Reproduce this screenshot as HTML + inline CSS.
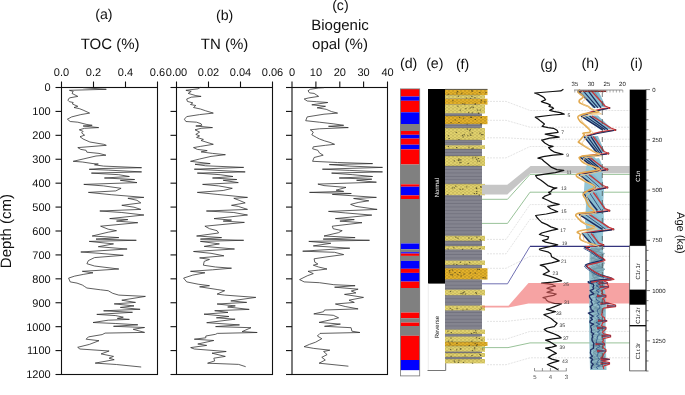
<!DOCTYPE html><html><head><meta charset="utf-8"><style>html,body{margin:0;padding:0;background:#fff;}svg{display:block;will-change:transform;}text{font-family:"Liberation Sans",sans-serif;fill:#111;text-rendering:geometricPrecision;}</style></head><body>
<svg width="685" height="395" viewBox="0 0 685 395">
<rect width="685" height="395" fill="#fff"/>
<text x="103.9" y="19.0" font-size="14.2" text-anchor="middle">(a)</text>
<text x="110.1" y="48.7" font-size="15" text-anchor="middle">TOC (%)</text>
<text x="224.6" y="19.5" font-size="14.2" text-anchor="middle">(b)</text>
<text x="224.5" y="48.6" font-size="15" text-anchor="middle">TN (%)</text>
<text x="340.4" y="9.7" font-size="14.2" text-anchor="middle">(c)</text>
<text x="340" y="29.5" font-size="15" text-anchor="middle">Biogenic</text>
<text x="340" y="48.6" font-size="15" text-anchor="middle">opal (%)</text>
<text transform="translate(11.0,231.1) rotate(-90)" font-size="15" text-anchor="middle">Depth (cm)</text>
<rect x="61.5" y="87.5" width="96.0" height="287" fill="none" stroke="#111" stroke-width="1.1"/><line x1="61.5" y1="87.5" x2="61.5" y2="81.5" stroke="#111" stroke-width="1.1"/><text x="61.5" y="76.2" font-size="11" text-anchor="middle">0.0</text><line x1="93.5" y1="87.5" x2="93.5" y2="81.5" stroke="#111" stroke-width="1.1"/><text x="93.5" y="76.2" font-size="11" text-anchor="middle">0.2</text><line x1="125.5" y1="87.5" x2="125.5" y2="81.5" stroke="#111" stroke-width="1.1"/><text x="125.5" y="76.2" font-size="11" text-anchor="middle">0.4</text><line x1="157.5" y1="87.5" x2="157.5" y2="81.5" stroke="#111" stroke-width="1.1"/><text x="157.5" y="76.2" font-size="11" text-anchor="middle">0.6</text><line x1="61.5" y1="87.50" x2="55.5" y2="87.50" stroke="#111" stroke-width="1.1"/><line x1="61.5" y1="111.42" x2="55.5" y2="111.42" stroke="#111" stroke-width="1.1"/><line x1="61.5" y1="135.33" x2="55.5" y2="135.33" stroke="#111" stroke-width="1.1"/><line x1="61.5" y1="159.25" x2="55.5" y2="159.25" stroke="#111" stroke-width="1.1"/><line x1="61.5" y1="183.17" x2="55.5" y2="183.17" stroke="#111" stroke-width="1.1"/><line x1="61.5" y1="207.08" x2="55.5" y2="207.08" stroke="#111" stroke-width="1.1"/><line x1="61.5" y1="231.00" x2="55.5" y2="231.00" stroke="#111" stroke-width="1.1"/><line x1="61.5" y1="254.92" x2="55.5" y2="254.92" stroke="#111" stroke-width="1.1"/><line x1="61.5" y1="278.83" x2="55.5" y2="278.83" stroke="#111" stroke-width="1.1"/><line x1="61.5" y1="302.75" x2="55.5" y2="302.75" stroke="#111" stroke-width="1.1"/><line x1="61.5" y1="326.67" x2="55.5" y2="326.67" stroke="#111" stroke-width="1.1"/><line x1="61.5" y1="350.58" x2="55.5" y2="350.58" stroke="#111" stroke-width="1.1"/><line x1="61.5" y1="374.50" x2="55.5" y2="374.50" stroke="#111" stroke-width="1.1"/>
<rect x="176.5" y="87.5" width="96.0" height="287" fill="none" stroke="#111" stroke-width="1.1"/><line x1="176.5" y1="87.5" x2="176.5" y2="81.5" stroke="#111" stroke-width="1.1"/><text x="176.5" y="76.2" font-size="11" text-anchor="middle">0.00</text><line x1="208.5" y1="87.5" x2="208.5" y2="81.5" stroke="#111" stroke-width="1.1"/><text x="208.5" y="76.2" font-size="11" text-anchor="middle">0.02</text><line x1="240.5" y1="87.5" x2="240.5" y2="81.5" stroke="#111" stroke-width="1.1"/><text x="240.5" y="76.2" font-size="11" text-anchor="middle">0.04</text><line x1="272.5" y1="87.5" x2="272.5" y2="81.5" stroke="#111" stroke-width="1.1"/><text x="272.5" y="76.2" font-size="11" text-anchor="middle">0.06</text><line x1="176.5" y1="87.50" x2="170.5" y2="87.50" stroke="#111" stroke-width="1.1"/><line x1="176.5" y1="111.42" x2="170.5" y2="111.42" stroke="#111" stroke-width="1.1"/><line x1="176.5" y1="135.33" x2="170.5" y2="135.33" stroke="#111" stroke-width="1.1"/><line x1="176.5" y1="159.25" x2="170.5" y2="159.25" stroke="#111" stroke-width="1.1"/><line x1="176.5" y1="183.17" x2="170.5" y2="183.17" stroke="#111" stroke-width="1.1"/><line x1="176.5" y1="207.08" x2="170.5" y2="207.08" stroke="#111" stroke-width="1.1"/><line x1="176.5" y1="231.00" x2="170.5" y2="231.00" stroke="#111" stroke-width="1.1"/><line x1="176.5" y1="254.92" x2="170.5" y2="254.92" stroke="#111" stroke-width="1.1"/><line x1="176.5" y1="278.83" x2="170.5" y2="278.83" stroke="#111" stroke-width="1.1"/><line x1="176.5" y1="302.75" x2="170.5" y2="302.75" stroke="#111" stroke-width="1.1"/><line x1="176.5" y1="326.67" x2="170.5" y2="326.67" stroke="#111" stroke-width="1.1"/><line x1="176.5" y1="350.58" x2="170.5" y2="350.58" stroke="#111" stroke-width="1.1"/><line x1="176.5" y1="374.50" x2="170.5" y2="374.50" stroke="#111" stroke-width="1.1"/>
<rect x="292" y="87.5" width="95.5" height="287" fill="none" stroke="#111" stroke-width="1.1"/><line x1="292" y1="87.5" x2="292" y2="81.5" stroke="#111" stroke-width="1.1"/><text x="292" y="76.2" font-size="11" text-anchor="middle">0</text><line x1="315.9" y1="87.5" x2="315.9" y2="81.5" stroke="#111" stroke-width="1.1"/><text x="315.9" y="76.2" font-size="11" text-anchor="middle">10</text><line x1="339.8" y1="87.5" x2="339.8" y2="81.5" stroke="#111" stroke-width="1.1"/><text x="339.8" y="76.2" font-size="11" text-anchor="middle">20</text><line x1="363.6" y1="87.5" x2="363.6" y2="81.5" stroke="#111" stroke-width="1.1"/><text x="363.6" y="76.2" font-size="11" text-anchor="middle">30</text><line x1="387.5" y1="87.5" x2="387.5" y2="81.5" stroke="#111" stroke-width="1.1"/><text x="387.5" y="76.2" font-size="11" text-anchor="middle">40</text><line x1="292" y1="87.50" x2="286" y2="87.50" stroke="#111" stroke-width="1.1"/><line x1="292" y1="111.42" x2="286" y2="111.42" stroke="#111" stroke-width="1.1"/><line x1="292" y1="135.33" x2="286" y2="135.33" stroke="#111" stroke-width="1.1"/><line x1="292" y1="159.25" x2="286" y2="159.25" stroke="#111" stroke-width="1.1"/><line x1="292" y1="183.17" x2="286" y2="183.17" stroke="#111" stroke-width="1.1"/><line x1="292" y1="207.08" x2="286" y2="207.08" stroke="#111" stroke-width="1.1"/><line x1="292" y1="231.00" x2="286" y2="231.00" stroke="#111" stroke-width="1.1"/><line x1="292" y1="254.92" x2="286" y2="254.92" stroke="#111" stroke-width="1.1"/><line x1="292" y1="278.83" x2="286" y2="278.83" stroke="#111" stroke-width="1.1"/><line x1="292" y1="302.75" x2="286" y2="302.75" stroke="#111" stroke-width="1.1"/><line x1="292" y1="326.67" x2="286" y2="326.67" stroke="#111" stroke-width="1.1"/><line x1="292" y1="350.58" x2="286" y2="350.58" stroke="#111" stroke-width="1.1"/><line x1="292" y1="374.50" x2="286" y2="374.50" stroke="#111" stroke-width="1.1"/>
<text x="50.7" y="91.3" font-size="11" text-anchor="end">0</text>
<text x="50.7" y="115.2" font-size="11" text-anchor="end">100</text>
<text x="50.7" y="139.1" font-size="11" text-anchor="end">200</text>
<text x="50.7" y="163.1" font-size="11" text-anchor="end">300</text>
<text x="50.7" y="187.0" font-size="11" text-anchor="end">400</text>
<text x="50.7" y="210.9" font-size="11" text-anchor="end">500</text>
<text x="50.7" y="234.8" font-size="11" text-anchor="end">600</text>
<text x="50.7" y="258.7" font-size="11" text-anchor="end">700</text>
<text x="50.7" y="282.6" font-size="11" text-anchor="end">800</text>
<text x="50.7" y="306.6" font-size="11" text-anchor="end">900</text>
<text x="50.7" y="330.5" font-size="11" text-anchor="end">1000</text>
<text x="50.7" y="354.4" font-size="11" text-anchor="end">1100</text>
<text x="50.7" y="378.3" font-size="11" text-anchor="end">1200</text>
<polyline points="83.1,87.7 106.3,89.3 69.4,90.3 73.2,91.4 72.0,93.4 77.8,96.4 69.4,97.9 67.9,100.2 69.4,101.7 73.2,102.5 72.4,104.0 77.8,106.3 74.0,107.5 79.3,108.6 83.1,110.1 89.6,113.1 80.8,114.6 71.7,116.9 67.4,119.2 70.2,121.5 77.8,122.2 86.9,124.5 92.2,125.3 83.1,126.0 98.7,127.6 84.6,128.3 79.3,129.8 83.1,131.4 81.6,132.9 84.6,135.2 80.0,136.7 83.1,139.0 89.9,142.0 103.6,144.3 106.3,145.3 93.0,146.4 77.8,147.6 80.8,149.4 86.1,150.3 86.9,152.2 99.0,153.4 105.9,155.2 96.0,156.0 83.1,159.0 73.2,161.3 82.3,162.0 93.0,163.6 98.3,164.0 94.5,164.8 103.6,166.1 141.6,167.7 99.0,168.6 89.2,169.3 108.2,170.1 141.6,171.9 91.4,173.1 118.8,174.7 129.4,176.5 104.4,178.0 134.7,179.5 120.3,180.3 137.0,182.6 83.8,184.4 103.6,185.9 121.1,188.3 115.8,190.9 88.4,192.4 111.2,194.7 143.9,197.4 127.9,198.3 137.0,200.3 140.8,202.9 121.8,205.3 134.0,207.2 140.8,209.4 99.8,211.0 121.8,212.5 143.9,215.0 109.7,218.6 127.9,219.6 116.5,221.1 137.8,222.7 100.6,226.2 108.2,229.2 116.5,230.7 108.2,232.2 92.2,236.0 118.8,237.6 96.0,239.1 136.3,240.3 89.2,241.4 113.5,243.9 98.3,246.7 127.1,249.0 80.8,252.0 99.0,253.3 123.3,255.3 94.5,257.6 88.4,260.6 86.9,263.7 94.5,266.0 118.8,269.0 96.0,270.5 82.3,271.3 93.0,272.8 83.8,274.3 74.7,276.1 68.6,278.1 70.2,281.9 77.0,283.1 82.3,285.0 84.6,286.5 86.9,288.0 100.6,289.8 108.2,290.7 112.7,293.3 118.8,295.1 145.4,296.4 121.8,300.2 135.5,302.4 114.2,303.9 134.0,305.9 120.3,307.4 140.1,309.3 103.6,310.8 132.5,312.3 96.8,314.4 115.8,315.6 123.3,317.2 117.3,318.4 129.4,319.4 108.2,320.2 93.0,322.5 115.8,323.5 137.8,324.8 113.5,326.3 144.6,327.5 133.2,329.3 144.6,332.4 105.1,333.1 102.1,334.6 88.4,336.9 86.1,339.2 99.0,340.7 89.4,344.4 77.7,347.3 79.9,349.0 109.1,351.0 101.1,353.9 113.5,356.4 109.1,358.2 114.2,359.7 95.2,363.1 116.4,364.5 141.2,367.0" fill="none" stroke="#2a2a2a" stroke-width="0.75" stroke-linejoin="round"/>
<polyline points="200.4,87.3 198.1,88.8 185.9,90.3 191.2,91.4 188.2,93.4 195.8,95.6 201.1,96.4 191.2,97.2 186.7,99.0 187.4,101.4 192.8,102.9 190.5,104.5 195.8,105.5 193.5,107.5 200.4,109.0 205.7,110.8 213.3,113.1 199.6,114.6 186.7,116.6 184.4,119.2 185.9,121.5 196.6,122.2 201.1,123.8 201.9,125.3 195.8,126.0 212.5,127.6 201.1,128.3 195.0,129.8 199.6,132.1 195.8,134.4 199.6,135.9 196.6,137.4 203.4,139.4 201.1,140.5 213.3,144.3 200.4,146.4 193.5,147.6 197.3,149.4 207.2,150.6 201.1,151.9 212.5,153.4 225.4,154.7 211.0,156.4 199.6,159.0 190.5,161.3 210.2,163.6 195.0,164.3 205.7,165.8 243.7,167.4 194.3,169.2 245.2,171.9 197.3,173.1 220.1,174.7 233.0,176.5 212.5,178.0 236.8,179.5 223.2,180.3 238.3,182.6 202.6,184.4 218.6,185.9 232.3,188.3 223.2,190.5 197.3,192.4 217.1,194.4 247.5,197.4 233.8,198.3 239.1,200.3 245.2,202.9 231.5,205.3 238.3,206.4 247.5,209.4 206.4,211.0 233.8,212.5 247.5,215.0 214.0,218.6 231.5,220.1 223.2,221.1 244.4,222.4 204.9,226.2 209.5,228.7 217.1,230.7 218.6,233.0 196.6,236.0 221.6,237.6 200.4,239.1 243.7,240.3 200.4,241.4 219.4,243.9 204.2,246.4 234.5,249.0 193.5,251.5 211.0,253.3 223.9,255.8 199.6,257.9 209.5,259.4 204.2,261.4 203.4,265.2 215.6,267.0 231.5,268.2 212.5,269.8 190.5,271.3 204.9,272.8 192.8,275.1 183.6,278.1 186.7,281.9 198.1,284.2 209.5,285.7 199.6,286.8 217.1,289.5 224.7,290.7 217.1,294.1 224.7,295.1 255.8,297.4 230.8,300.9 246.7,302.4 217.1,304.0 235.3,305.9 227.7,307.0 249.2,309.4 214.7,310.7 228.0,312.4 204.0,314.2 228.9,316.5 216.4,317.8 235.1,319.2 206.7,322.7 239.5,324.9 215.6,326.6 251.0,327.7 242.1,331.6 257.2,332.5 217.3,333.4 215.6,334.3 205.8,336.0 205.8,337.8 194.3,339.2 213.8,340.5 197.8,344.0 206.7,345.4 190.7,347.6 194.3,349.0 226.2,351.5 212.0,353.2 225.3,356.4 213.8,358.2 214.7,360.9 207.6,363.2 238.6,364.4 245.7,366.7" fill="none" stroke="#2a2a2a" stroke-width="0.75" stroke-linejoin="round"/>
<polyline points="324.0,87.7 318.6,88.0 310.3,89.3 308.0,90.8 309.5,92.9 314.1,93.4 316.4,94.9 318.6,96.4 308.8,97.9 304.2,99.0 307.2,101.0 316.4,101.7 327.8,102.5 311.8,104.8 325.5,106.3 317.1,107.8 326.2,109.3 331.6,111.6 337.6,113.1 324.0,114.2 307.2,116.9 305.7,120.7 319.4,122.2 333.1,123.8 343.7,125.3 328.5,126.3 348.3,127.6 319.4,128.8 310.3,129.8 313.3,132.1 311.8,134.8 316.4,137.4 319.4,139.0 324.7,140.9 330.0,142.4 334.6,144.3 325.5,145.3 313.3,146.8 312.6,148.8 317.9,150.3 319.4,152.9 323.2,155.2 314.1,157.5 312.6,161.3 337.6,162.5 372.6,163.6 329.3,164.6 349.8,166.1 382.5,167.4 322.4,169.2 349.8,170.4 382.5,171.9 331.6,173.1 352.8,174.7 372.6,176.5 339.2,178.0 371.8,179.2 356.6,180.3 376.4,182.2 317.9,184.1 324.0,185.6 346.0,187.4 336.1,190.2 343.7,191.4 309.5,192.4 351.3,193.5 332.3,194.4 376.4,197.4 353.6,198.5 368.8,200.8 358.9,202.3 350.6,204.4 355.9,206.4 377.1,209.4 328.5,211.4 345.2,212.9 371.8,215.1 335.4,218.6 354.3,219.6 339.9,221.1 362.0,222.7 332.3,226.2 333.1,228.7 342.2,230.7 338.4,232.7 324.0,236.0 355.1,237.6 323.2,239.1 369.5,240.3 308.8,241.4 330.8,243.3 313.3,245.9 349.8,248.2 302.7,251.2 334.6,252.3 343.7,254.6 327.0,256.8 314.1,258.8 314.8,262.2 317.9,264.0 313.3,265.2 318.6,267.0 327.0,269.0 318.6,270.1 308.0,271.3 313.3,273.6 307.2,275.8 299.6,279.6 304.2,281.9 319.4,282.7 333.8,284.7 355.1,285.7 334.6,287.2 358.1,289.2 351.3,291.0 355.9,292.9 344.5,294.4 363.5,297.4 349.0,300.2 354.3,302.4 335.4,304.0 345.2,306.5 358.1,308.9 324.5,310.0 323.6,311.7 313.8,313.9 333.3,315.3 338.6,317.8 333.3,319.2 319.1,322.4 340.4,324.1 324.5,326.3 351.1,327.7 351.9,331.2 359.9,332.5 320.0,333.4 317.4,336.0 321.8,338.7 315.6,342.2 309.4,344.4 304.1,346.7 313.8,348.4 329.8,350.2 323.6,351.5 327.1,354.6 321.8,357.3 325.3,360.0 319.1,363.2 348.4,366.2" fill="none" stroke="#2a2a2a" stroke-width="0.75" stroke-linejoin="round"/>
<text x="408.6" y="68.3" font-size="14.2" text-anchor="middle">(d)</text>
<text x="434.8" y="68.3" font-size="14.2" text-anchor="middle">(e)</text>
<text x="462.6" y="69.4" font-size="14.2" text-anchor="middle">(f)</text>
<text x="548.8" y="69.4" font-size="14.2" text-anchor="middle">(g)</text>
<text x="590.2" y="68.2" font-size="14.2" text-anchor="middle">(h)</text>
<text x="636.4" y="68.2" font-size="14.2" text-anchor="middle">(i)</text>
<rect x="400.5" y="89" width="19.2" height="7.50" fill="#ff0000"/>
<rect x="400.5" y="96.5" width="19.2" height="4.30" fill="#0000ff"/>
<rect x="400.5" y="100.8" width="19.2" height="11.50" fill="#ff0000"/>
<rect x="400.5" y="112.3" width="19.2" height="11.70" fill="#0000ff"/>
<rect x="400.5" y="124" width="19.2" height="7.00" fill="#808080"/>
<rect x="400.5" y="131" width="19.2" height="3.80" fill="#ff0000"/>
<rect x="400.5" y="134.8" width="19.2" height="3.80" fill="#0000ff"/>
<rect x="400.5" y="138.6" width="19.2" height="6.10" fill="#ff0000"/>
<rect x="400.5" y="144.7" width="19.2" height="4.70" fill="#0000ff"/>
<rect x="400.5" y="149.4" width="19.2" height="15.10" fill="#ff0000"/>
<rect x="400.5" y="164.5" width="19.2" height="19.80" fill="#808080"/>
<rect x="400.5" y="184.3" width="19.2" height="2.40" fill="#ff0000"/>
<rect x="400.5" y="186.7" width="19.2" height="8.70" fill="#0000ff"/>
<rect x="400.5" y="195.4" width="19.2" height="3.60" fill="#ff0000"/>
<rect x="400.5" y="199" width="19.2" height="44.50" fill="#808080"/>
<rect x="400.5" y="243.5" width="19.2" height="5.70" fill="#0000ff"/>
<rect x="400.5" y="249.2" width="19.2" height="3.00" fill="#808080"/>
<rect x="400.5" y="252.2" width="19.2" height="1.40" fill="#0000ff"/>
<rect x="400.5" y="253.6" width="19.2" height="2.30" fill="#ff0000"/>
<rect x="400.5" y="255.9" width="19.2" height="5.00" fill="#808080"/>
<rect x="400.5" y="260.9" width="19.2" height="7.90" fill="#0000ff"/>
<rect x="400.5" y="268.8" width="19.2" height="4.10" fill="#ff0000"/>
<rect x="400.5" y="272.9" width="19.2" height="8.70" fill="#0000ff"/>
<rect x="400.5" y="281.6" width="19.2" height="6.40" fill="#ff0000"/>
<rect x="400.5" y="288" width="19.2" height="24.60" fill="#808080"/>
<rect x="400.5" y="312.6" width="19.2" height="5.60" fill="#ff0000"/>
<rect x="400.5" y="318.2" width="19.2" height="4.40" fill="#808080"/>
<rect x="400.5" y="322.6" width="19.2" height="3.40" fill="#ff0000"/>
<rect x="400.5" y="326" width="19.2" height="9.80" fill="#808080"/>
<rect x="400.5" y="335.8" width="19.2" height="24.20" fill="#ff0000"/>
<rect x="400.5" y="360" width="19.2" height="10.40" fill="#0000ff"/>
<rect x="400.5" y="370.4" width="19.2" height="5.50" fill="#ffffff"/>
<rect x="400.5" y="88.9" width="19.2" height="87" fill="none"/>
<rect x="400.5" y="88.9" width="19.2" height="287" fill="none" stroke="#777" stroke-width="0.8"/>
<rect x="428" y="89" width="17.3" height="194.6" fill="#000"/>
<line x1="428.3" y1="283.6" x2="428.3" y2="370.4" stroke="#e4e4e4" stroke-width="0.7"/>
<polyline points="427.5,370.5 445.7,370.5 445.7,283.6" fill="none" stroke="#666" stroke-width="0.9"/>
<text transform="translate(438.8,187.7) rotate(-90)" font-size="6" fill="#fff" text-anchor="middle" style="fill:#fff">Normal</text>
<text transform="translate(438.8,327.2) rotate(-90)" font-size="6" text-anchor="middle">Reverse</text>
<defs><pattern id="pY" width="4" height="3" patternUnits="userSpaceOnUse"><rect width="4" height="3" fill="#dfd06c"/><rect x="0.3" y="0.6" width="1.4" height="0.7" fill="#9c8e40"/><rect x="2.4" y="2" width="1.2" height="0.6" fill="#aa9a48"/></pattern><pattern id="pD" width="4" height="3" patternUnits="userSpaceOnUse"><rect width="4" height="3" fill="#e2b02a"/><rect x="0.3" y="0.6" width="1.4" height="0.7" fill="#8e6c14"/><rect x="2.4" y="2" width="1.2" height="0.6" fill="#a47e18"/></pattern><pattern id="pG" width="6" height="3.4" patternUnits="userSpaceOnUse"><rect width="6" height="3.4" fill="#84848f"/><rect y="2.5" width="6" height="0.8" fill="#6e6e7c"/></pattern></defs>
<rect x="445" y="89.4" width="42.5" height="5.70" fill="url(#pD)"/>
<rect x="445" y="95.1" width="40" height="3.60" fill="url(#pY)"/>
<rect x="445" y="98.7" width="42.5" height="5.90" fill="url(#pD)"/>
<rect x="445" y="104.6" width="40" height="8.90" fill="url(#pY)"/>
<rect x="445" y="113.5" width="37" height="2.50" fill="url(#pG)"/>
<rect x="445" y="116" width="42.5" height="8.20" fill="url(#pD)"/>
<rect x="445" y="124.2" width="37" height="3.80" fill="url(#pG)"/>
<rect x="445" y="128" width="40" height="12.00" fill="url(#pY)"/>
<rect x="445" y="140" width="37" height="5.20" fill="url(#pG)"/>
<rect x="445" y="145.2" width="40" height="3.80" fill="url(#pY)"/>
<rect x="445" y="149" width="37" height="7.00" fill="url(#pG)"/>
<rect x="445" y="156" width="40" height="10.00" fill="url(#pY)"/>
<rect x="445" y="166" width="37" height="17.90" fill="url(#pG)"/>
<rect x="445" y="183.9" width="40" height="11.40" fill="url(#pY)"/>
<rect x="445" y="195.3" width="37" height="40.50" fill="url(#pG)"/>
<rect x="445" y="235.8" width="40" height="5.10" fill="url(#pY)"/>
<rect x="445" y="240.9" width="37" height="5.10" fill="url(#pG)"/>
<rect x="445" y="246" width="40" height="3.70" fill="url(#pY)"/>
<rect x="445" y="249.7" width="37" height="10.80" fill="url(#pG)"/>
<rect x="445" y="260.5" width="40" height="4.50" fill="url(#pY)"/>
<rect x="445" y="265" width="37" height="3.20" fill="url(#pG)"/>
<rect x="445" y="268.2" width="42.5" height="11.40" fill="url(#pD)"/>
<rect x="445" y="279.6" width="37" height="10.10" fill="url(#pG)"/>
<rect x="445" y="289.7" width="40" height="5.70" fill="url(#pY)"/>
<rect x="445" y="295.4" width="37" height="10.10" fill="url(#pG)"/>
<rect x="445" y="305.5" width="40" height="5.10" fill="url(#pY)"/>
<rect x="445" y="310.6" width="37" height="19.00" fill="url(#pG)"/>
<rect x="445" y="329.6" width="40" height="4.40" fill="url(#pY)"/>
<rect x="445" y="334" width="37" height="2.50" fill="url(#pG)"/>
<rect x="445" y="336.5" width="40" height="5.50" fill="url(#pY)"/>
<rect x="445" y="342" width="42.5" height="4.00" fill="url(#pD)"/>
<rect x="445" y="346" width="40" height="5.80" fill="url(#pY)"/>
<rect x="445" y="351.8" width="37" height="1.20" fill="url(#pG)"/>
<rect x="445" y="353" width="40" height="4.00" fill="url(#pY)"/>
<rect x="445" y="357" width="37" height="2.00" fill="url(#pG)"/>
<rect x="445" y="359" width="40" height="4.40" fill="url(#pY)"/>
<rect x="456.2" y="92.4" width="1.3" height="1" fill="#3a3520" opacity="0.75"/>
<rect x="461.2" y="92.7" width="1.3" height="1" fill="#3a3520" opacity="0.75"/>
<rect x="471.1" y="90.3" width="1.3" height="1" fill="#3a3520" opacity="0.75"/>
<rect x="447.5" y="93.8" width="1.3" height="1" fill="#3a3520" opacity="0.75"/>
<rect x="457.0" y="91.1" width="1.3" height="1" fill="#3a3520" opacity="0.75"/>
<rect x="485.3" y="92.1" width="1.3" height="1" fill="#3a3520" opacity="0.75"/>
<rect x="479.2" y="92.1" width="1.3" height="1" fill="#3a3520" opacity="0.75"/>
<rect x="471.6" y="90.7" width="1.3" height="1" fill="#3a3520" opacity="0.75"/>
<rect x="469.9" y="97.8" width="1.3" height="1" fill="#3a3520" opacity="0.75"/>
<rect x="465.8" y="97.5" width="1.3" height="1" fill="#3a3520" opacity="0.75"/>
<rect x="471.2" y="95.9" width="1.3" height="1" fill="#3a3520" opacity="0.75"/>
<rect x="474.3" y="97.1" width="1.3" height="1" fill="#3a3520" opacity="0.75"/>
<rect x="457.8" y="95.8" width="1.3" height="1" fill="#3a3520" opacity="0.75"/>
<rect x="480.3" y="101.5" width="1.3" height="1" fill="#3a3520" opacity="0.75"/>
<rect x="474.7" y="103.4" width="1.3" height="1" fill="#3a3520" opacity="0.75"/>
<rect x="474.5" y="103.6" width="1.3" height="1" fill="#3a3520" opacity="0.75"/>
<rect x="462.2" y="103.1" width="1.3" height="1" fill="#3a3520" opacity="0.75"/>
<rect x="464.1" y="103.7" width="1.3" height="1" fill="#3a3520" opacity="0.75"/>
<rect x="480.8" y="99.8" width="1.3" height="1" fill="#3a3520" opacity="0.75"/>
<rect x="452.2" y="100.3" width="1.3" height="1" fill="#3a3520" opacity="0.75"/>
<rect x="484.2" y="101.3" width="1.3" height="1" fill="#3a3520" opacity="0.75"/>
<rect x="469.6" y="107.5" width="1.3" height="1" fill="#3a3520" opacity="0.75"/>
<rect x="465.3" y="108.2" width="1.3" height="1" fill="#3a3520" opacity="0.75"/>
<rect x="459.6" y="109.7" width="1.3" height="1" fill="#3a3520" opacity="0.75"/>
<rect x="468.0" y="112.2" width="1.3" height="1" fill="#3a3520" opacity="0.75"/>
<rect x="471.6" y="112.4" width="1.3" height="1" fill="#3a3520" opacity="0.75"/>
<rect x="477.8" y="112.8" width="1.3" height="1" fill="#3a3520" opacity="0.75"/>
<rect x="471.2" y="106.5" width="1.3" height="1" fill="#3a3520" opacity="0.75"/>
<rect x="478.0" y="112.6" width="1.3" height="1" fill="#3a3520" opacity="0.75"/>
<rect x="479.6" y="109.6" width="1.3" height="1" fill="#3a3520" opacity="0.75"/>
<rect x="472.7" y="106.8" width="1.3" height="1" fill="#3a3520" opacity="0.75"/>
<rect x="476.9" y="109.6" width="1.3" height="1" fill="#3a3520" opacity="0.75"/>
<rect x="457.3" y="105.7" width="1.3" height="1" fill="#3a3520" opacity="0.75"/>
<rect x="479.9" y="123.5" width="1.3" height="1" fill="#3a3520" opacity="0.75"/>
<rect x="450.4" y="122.2" width="1.3" height="1" fill="#3a3520" opacity="0.75"/>
<rect x="462.8" y="117.7" width="1.3" height="1" fill="#3a3520" opacity="0.75"/>
<rect x="458.3" y="122.0" width="1.3" height="1" fill="#3a3520" opacity="0.75"/>
<rect x="480.6" y="116.9" width="1.3" height="1" fill="#3a3520" opacity="0.75"/>
<rect x="470.7" y="116.9" width="1.3" height="1" fill="#3a3520" opacity="0.75"/>
<rect x="474.7" y="118.9" width="1.3" height="1" fill="#3a3520" opacity="0.75"/>
<rect x="480.9" y="123.5" width="1.3" height="1" fill="#3a3520" opacity="0.75"/>
<rect x="466.5" y="123.6" width="1.3" height="1" fill="#3a3520" opacity="0.75"/>
<rect x="458.9" y="117.1" width="1.3" height="1" fill="#3a3520" opacity="0.75"/>
<rect x="470.1" y="116.8" width="1.3" height="1" fill="#3a3520" opacity="0.75"/>
<rect x="454.6" y="119.5" width="1.3" height="1" fill="#3a3520" opacity="0.75"/>
<rect x="469.0" y="130.3" width="1.3" height="1" fill="#3a3520" opacity="0.75"/>
<rect x="448.5" y="138.0" width="1.3" height="1" fill="#3a3520" opacity="0.75"/>
<rect x="458.3" y="139.0" width="1.3" height="1" fill="#3a3520" opacity="0.75"/>
<rect x="479.3" y="132.7" width="1.3" height="1" fill="#3a3520" opacity="0.75"/>
<rect x="463.6" y="134.2" width="1.3" height="1" fill="#3a3520" opacity="0.75"/>
<rect x="470.2" y="135.0" width="1.3" height="1" fill="#3a3520" opacity="0.75"/>
<rect x="467.1" y="135.3" width="1.3" height="1" fill="#3a3520" opacity="0.75"/>
<rect x="480.9" y="134.1" width="1.3" height="1" fill="#3a3520" opacity="0.75"/>
<rect x="462.5" y="136.4" width="1.3" height="1" fill="#3a3520" opacity="0.75"/>
<rect x="455.6" y="131.9" width="1.3" height="1" fill="#3a3520" opacity="0.75"/>
<rect x="482.2" y="134.2" width="1.3" height="1" fill="#3a3520" opacity="0.75"/>
<rect x="466.7" y="128.7" width="1.3" height="1" fill="#3a3520" opacity="0.75"/>
<rect x="461.9" y="134.9" width="1.3" height="1" fill="#3a3520" opacity="0.75"/>
<rect x="447.7" y="135.3" width="1.3" height="1" fill="#3a3520" opacity="0.75"/>
<rect x="469.8" y="129.2" width="1.3" height="1" fill="#3a3520" opacity="0.75"/>
<rect x="469.6" y="133.6" width="1.3" height="1" fill="#3a3520" opacity="0.75"/>
<rect x="471.5" y="132.4" width="1.3" height="1" fill="#3a3520" opacity="0.75"/>
<rect x="472.5" y="147.7" width="1.3" height="1" fill="#3a3520" opacity="0.75"/>
<rect x="447.8" y="146.0" width="1.3" height="1" fill="#3a3520" opacity="0.75"/>
<rect x="471.3" y="148.3" width="1.3" height="1" fill="#3a3520" opacity="0.75"/>
<rect x="456.0" y="147.0" width="1.3" height="1" fill="#3a3520" opacity="0.75"/>
<rect x="468.3" y="146.6" width="1.3" height="1" fill="#3a3520" opacity="0.75"/>
<rect x="460.1" y="159.4" width="1.3" height="1" fill="#3a3520" opacity="0.75"/>
<rect x="460.3" y="161.8" width="1.3" height="1" fill="#3a3520" opacity="0.75"/>
<rect x="457.8" y="159.9" width="1.3" height="1" fill="#3a3520" opacity="0.75"/>
<rect x="474.8" y="156.8" width="1.3" height="1" fill="#3a3520" opacity="0.75"/>
<rect x="467.5" y="163.1" width="1.3" height="1" fill="#3a3520" opacity="0.75"/>
<rect x="458.2" y="158.6" width="1.3" height="1" fill="#3a3520" opacity="0.75"/>
<rect x="475.9" y="158.7" width="1.3" height="1" fill="#3a3520" opacity="0.75"/>
<rect x="453.7" y="160.4" width="1.3" height="1" fill="#3a3520" opacity="0.75"/>
<rect x="472.1" y="157.5" width="1.3" height="1" fill="#3a3520" opacity="0.75"/>
<rect x="458.6" y="159.5" width="1.3" height="1" fill="#3a3520" opacity="0.75"/>
<rect x="477.0" y="160.5" width="1.3" height="1" fill="#3a3520" opacity="0.75"/>
<rect x="477.8" y="158.1" width="1.3" height="1" fill="#3a3520" opacity="0.75"/>
<rect x="459.1" y="162.3" width="1.3" height="1" fill="#3a3520" opacity="0.75"/>
<rect x="478.9" y="160.6" width="1.3" height="1" fill="#3a3520" opacity="0.75"/>
<rect x="455.1" y="185.7" width="1.3" height="1" fill="#3a3520" opacity="0.75"/>
<rect x="466.1" y="186.4" width="1.3" height="1" fill="#3a3520" opacity="0.75"/>
<rect x="476.0" y="193.1" width="1.3" height="1" fill="#3a3520" opacity="0.75"/>
<rect x="453.6" y="187.3" width="1.3" height="1" fill="#3a3520" opacity="0.75"/>
<rect x="476.1" y="191.0" width="1.3" height="1" fill="#3a3520" opacity="0.75"/>
<rect x="476.0" y="188.0" width="1.3" height="1" fill="#3a3520" opacity="0.75"/>
<rect x="451.7" y="187.5" width="1.3" height="1" fill="#3a3520" opacity="0.75"/>
<rect x="475.6" y="187.3" width="1.3" height="1" fill="#3a3520" opacity="0.75"/>
<rect x="459.5" y="188.8" width="1.3" height="1" fill="#3a3520" opacity="0.75"/>
<rect x="462.1" y="188.7" width="1.3" height="1" fill="#3a3520" opacity="0.75"/>
<rect x="480.1" y="186.1" width="1.3" height="1" fill="#3a3520" opacity="0.75"/>
<rect x="447.2" y="194.1" width="1.3" height="1" fill="#3a3520" opacity="0.75"/>
<rect x="478.7" y="194.6" width="1.3" height="1" fill="#3a3520" opacity="0.75"/>
<rect x="462.6" y="194.2" width="1.3" height="1" fill="#3a3520" opacity="0.75"/>
<rect x="480.4" y="186.8" width="1.3" height="1" fill="#3a3520" opacity="0.75"/>
<rect x="473.8" y="193.0" width="1.3" height="1" fill="#3a3520" opacity="0.75"/>
<rect x="470.9" y="238.4" width="1.3" height="1" fill="#3a3520" opacity="0.75"/>
<rect x="457.4" y="237.7" width="1.3" height="1" fill="#3a3520" opacity="0.75"/>
<rect x="455.2" y="236.7" width="1.3" height="1" fill="#3a3520" opacity="0.75"/>
<rect x="468.2" y="237.5" width="1.3" height="1" fill="#3a3520" opacity="0.75"/>
<rect x="476.2" y="236.6" width="1.3" height="1" fill="#3a3520" opacity="0.75"/>
<rect x="479.5" y="239.1" width="1.3" height="1" fill="#3a3520" opacity="0.75"/>
<rect x="480.3" y="239.9" width="1.3" height="1" fill="#3a3520" opacity="0.75"/>
<rect x="479.4" y="248.0" width="1.3" height="1" fill="#3a3520" opacity="0.75"/>
<rect x="447.5" y="248.5" width="1.3" height="1" fill="#3a3520" opacity="0.75"/>
<rect x="453.2" y="247.3" width="1.3" height="1" fill="#3a3520" opacity="0.75"/>
<rect x="470.9" y="247.9" width="1.3" height="1" fill="#3a3520" opacity="0.75"/>
<rect x="461.9" y="248.9" width="1.3" height="1" fill="#3a3520" opacity="0.75"/>
<rect x="469.0" y="262.2" width="1.3" height="1" fill="#3a3520" opacity="0.75"/>
<rect x="456.1" y="263.9" width="1.3" height="1" fill="#3a3520" opacity="0.75"/>
<rect x="464.2" y="263.7" width="1.3" height="1" fill="#3a3520" opacity="0.75"/>
<rect x="459.7" y="261.8" width="1.3" height="1" fill="#3a3520" opacity="0.75"/>
<rect x="466.2" y="263.8" width="1.3" height="1" fill="#3a3520" opacity="0.75"/>
<rect x="453.2" y="263.7" width="1.3" height="1" fill="#3a3520" opacity="0.75"/>
<rect x="482.5" y="277.0" width="1.3" height="1" fill="#3a3520" opacity="0.75"/>
<rect x="478.7" y="268.9" width="1.3" height="1" fill="#3a3520" opacity="0.75"/>
<rect x="471.2" y="277.6" width="1.3" height="1" fill="#3a3520" opacity="0.75"/>
<rect x="448.9" y="271.6" width="1.3" height="1" fill="#3a3520" opacity="0.75"/>
<rect x="457.3" y="274.2" width="1.3" height="1" fill="#3a3520" opacity="0.75"/>
<rect x="463.3" y="273.6" width="1.3" height="1" fill="#3a3520" opacity="0.75"/>
<rect x="476.9" y="268.8" width="1.3" height="1" fill="#3a3520" opacity="0.75"/>
<rect x="449.1" y="270.1" width="1.3" height="1" fill="#3a3520" opacity="0.75"/>
<rect x="451.8" y="269.5" width="1.3" height="1" fill="#3a3520" opacity="0.75"/>
<rect x="484.5" y="277.5" width="1.3" height="1" fill="#3a3520" opacity="0.75"/>
<rect x="450.3" y="273.9" width="1.3" height="1" fill="#3a3520" opacity="0.75"/>
<rect x="459.2" y="272.0" width="1.3" height="1" fill="#3a3520" opacity="0.75"/>
<rect x="460.5" y="275.4" width="1.3" height="1" fill="#3a3520" opacity="0.75"/>
<rect x="469.6" y="272.5" width="1.3" height="1" fill="#3a3520" opacity="0.75"/>
<rect x="454.4" y="272.2" width="1.3" height="1" fill="#3a3520" opacity="0.75"/>
<rect x="451.8" y="274.5" width="1.3" height="1" fill="#3a3520" opacity="0.75"/>
<rect x="474.6" y="272.7" width="1.3" height="1" fill="#3a3520" opacity="0.75"/>
<rect x="449.9" y="291.1" width="1.3" height="1" fill="#3a3520" opacity="0.75"/>
<rect x="460.4" y="293.0" width="1.3" height="1" fill="#3a3520" opacity="0.75"/>
<rect x="475.2" y="292.0" width="1.3" height="1" fill="#3a3520" opacity="0.75"/>
<rect x="475.8" y="293.1" width="1.3" height="1" fill="#3a3520" opacity="0.75"/>
<rect x="462.5" y="292.0" width="1.3" height="1" fill="#3a3520" opacity="0.75"/>
<rect x="464.9" y="293.5" width="1.3" height="1" fill="#3a3520" opacity="0.75"/>
<rect x="462.1" y="293.4" width="1.3" height="1" fill="#3a3520" opacity="0.75"/>
<rect x="463.6" y="291.4" width="1.3" height="1" fill="#3a3520" opacity="0.75"/>
<rect x="466.3" y="308.8" width="1.3" height="1" fill="#3a3520" opacity="0.75"/>
<rect x="449.6" y="307.8" width="1.3" height="1" fill="#3a3520" opacity="0.75"/>
<rect x="462.3" y="309.5" width="1.3" height="1" fill="#3a3520" opacity="0.75"/>
<rect x="480.7" y="307.6" width="1.3" height="1" fill="#3a3520" opacity="0.75"/>
<rect x="479.3" y="309.2" width="1.3" height="1" fill="#3a3520" opacity="0.75"/>
<rect x="456.4" y="307.9" width="1.3" height="1" fill="#3a3520" opacity="0.75"/>
<rect x="451.4" y="309.3" width="1.3" height="1" fill="#3a3520" opacity="0.75"/>
<rect x="470.8" y="333.0" width="1.3" height="1" fill="#3a3520" opacity="0.75"/>
<rect x="475.5" y="332.3" width="1.3" height="1" fill="#3a3520" opacity="0.75"/>
<rect x="473.4" y="332.0" width="1.3" height="1" fill="#3a3520" opacity="0.75"/>
<rect x="450.7" y="332.1" width="1.3" height="1" fill="#3a3520" opacity="0.75"/>
<rect x="447.2" y="330.7" width="1.3" height="1" fill="#3a3520" opacity="0.75"/>
<rect x="474.9" y="330.3" width="1.3" height="1" fill="#3a3520" opacity="0.75"/>
<rect x="450.3" y="337.5" width="1.3" height="1" fill="#3a3520" opacity="0.75"/>
<rect x="478.7" y="337.9" width="1.3" height="1" fill="#3a3520" opacity="0.75"/>
<rect x="447.8" y="340.7" width="1.3" height="1" fill="#3a3520" opacity="0.75"/>
<rect x="451.4" y="340.7" width="1.3" height="1" fill="#3a3520" opacity="0.75"/>
<rect x="471.2" y="340.7" width="1.3" height="1" fill="#3a3520" opacity="0.75"/>
<rect x="481.3" y="339.6" width="1.3" height="1" fill="#3a3520" opacity="0.75"/>
<rect x="475.8" y="337.3" width="1.3" height="1" fill="#3a3520" opacity="0.75"/>
<rect x="476.5" y="344.0" width="1.3" height="1" fill="#3a3520" opacity="0.75"/>
<rect x="474.5" y="342.9" width="1.3" height="1" fill="#3a3520" opacity="0.75"/>
<rect x="475.8" y="345.2" width="1.3" height="1" fill="#3a3520" opacity="0.75"/>
<rect x="449.4" y="343.5" width="1.3" height="1" fill="#3a3520" opacity="0.75"/>
<rect x="468.7" y="344.9" width="1.3" height="1" fill="#3a3520" opacity="0.75"/>
<rect x="456.3" y="343.1" width="1.3" height="1" fill="#3a3520" opacity="0.75"/>
<rect x="456.0" y="349.4" width="1.3" height="1" fill="#3a3520" opacity="0.75"/>
<rect x="474.1" y="348.4" width="1.3" height="1" fill="#3a3520" opacity="0.75"/>
<rect x="460.2" y="348.4" width="1.3" height="1" fill="#3a3520" opacity="0.75"/>
<rect x="459.6" y="348.5" width="1.3" height="1" fill="#3a3520" opacity="0.75"/>
<rect x="450.0" y="348.9" width="1.3" height="1" fill="#3a3520" opacity="0.75"/>
<rect x="482.0" y="348.5" width="1.3" height="1" fill="#3a3520" opacity="0.75"/>
<rect x="473.9" y="347.3" width="1.3" height="1" fill="#3a3520" opacity="0.75"/>
<rect x="471.9" y="350.1" width="1.3" height="1" fill="#3a3520" opacity="0.75"/>
<rect x="471.3" y="355.0" width="1.3" height="1" fill="#3a3520" opacity="0.75"/>
<rect x="464.4" y="355.4" width="1.3" height="1" fill="#3a3520" opacity="0.75"/>
<rect x="479.3" y="354.0" width="1.3" height="1" fill="#3a3520" opacity="0.75"/>
<rect x="450.5" y="355.7" width="1.3" height="1" fill="#3a3520" opacity="0.75"/>
<rect x="480.0" y="355.0" width="1.3" height="1" fill="#3a3520" opacity="0.75"/>
<rect x="462.9" y="361.9" width="1.3" height="1" fill="#3a3520" opacity="0.75"/>
<rect x="453.7" y="360.5" width="1.3" height="1" fill="#3a3520" opacity="0.75"/>
<rect x="454.2" y="361.5" width="1.3" height="1" fill="#3a3520" opacity="0.75"/>
<rect x="458.3" y="360.3" width="1.3" height="1" fill="#3a3520" opacity="0.75"/>
<rect x="471.9" y="362.7" width="1.3" height="1" fill="#3a3520" opacity="0.75"/>
<rect x="457.7" y="361.9" width="1.3" height="1" fill="#3a3520" opacity="0.75"/>
<line x1="445" y1="89.4" x2="487.5" y2="89.4" stroke="#333" stroke-width="0.8"/>
<line x1="445.5" y1="95.1" x2="480.0" y2="95.1" stroke="#5a5440" stroke-width="0.5" opacity="0.7"/>
<line x1="445.5" y1="98.7" x2="480.0" y2="98.7" stroke="#5a5440" stroke-width="0.5" opacity="0.7"/>
<line x1="445.5" y1="104.6" x2="480.0" y2="104.6" stroke="#5a5440" stroke-width="0.5" opacity="0.7"/>
<line x1="445.5" y1="113.5" x2="480.0" y2="113.5" stroke="#5a5440" stroke-width="0.5" opacity="0.7"/>
<line x1="445.5" y1="116" x2="480.0" y2="116" stroke="#5a5440" stroke-width="0.5" opacity="0.7"/>
<line x1="445.5" y1="124.2" x2="480.0" y2="124.2" stroke="#5a5440" stroke-width="0.5" opacity="0.7"/>
<line x1="445.5" y1="128" x2="480.0" y2="128" stroke="#5a5440" stroke-width="0.5" opacity="0.7"/>
<line x1="445.5" y1="140" x2="480.0" y2="140" stroke="#5a5440" stroke-width="0.5" opacity="0.7"/>
<line x1="445.5" y1="145.2" x2="480.0" y2="145.2" stroke="#5a5440" stroke-width="0.5" opacity="0.7"/>
<line x1="445.5" y1="149" x2="480.0" y2="149" stroke="#5a5440" stroke-width="0.5" opacity="0.7"/>
<line x1="445.5" y1="156" x2="480.0" y2="156" stroke="#5a5440" stroke-width="0.5" opacity="0.7"/>
<line x1="445.5" y1="166" x2="480.0" y2="166" stroke="#5a5440" stroke-width="0.5" opacity="0.7"/>
<line x1="445.5" y1="183.9" x2="480.0" y2="183.9" stroke="#5a5440" stroke-width="0.5" opacity="0.7"/>
<line x1="445.5" y1="195.3" x2="480.0" y2="195.3" stroke="#5a5440" stroke-width="0.5" opacity="0.7"/>
<line x1="445.5" y1="235.8" x2="480.0" y2="235.8" stroke="#5a5440" stroke-width="0.5" opacity="0.7"/>
<line x1="445.5" y1="240.9" x2="480.0" y2="240.9" stroke="#5a5440" stroke-width="0.5" opacity="0.7"/>
<line x1="445.5" y1="246" x2="480.0" y2="246" stroke="#5a5440" stroke-width="0.5" opacity="0.7"/>
<line x1="445.5" y1="249.7" x2="480.0" y2="249.7" stroke="#5a5440" stroke-width="0.5" opacity="0.7"/>
<line x1="445.5" y1="260.5" x2="480.0" y2="260.5" stroke="#5a5440" stroke-width="0.5" opacity="0.7"/>
<line x1="445.5" y1="265" x2="480.0" y2="265" stroke="#5a5440" stroke-width="0.5" opacity="0.7"/>
<line x1="445.5" y1="268.2" x2="480.0" y2="268.2" stroke="#5a5440" stroke-width="0.5" opacity="0.7"/>
<line x1="445.5" y1="279.6" x2="480.0" y2="279.6" stroke="#5a5440" stroke-width="0.5" opacity="0.7"/>
<line x1="445.5" y1="289.7" x2="480.0" y2="289.7" stroke="#5a5440" stroke-width="0.5" opacity="0.7"/>
<line x1="445.5" y1="295.4" x2="480.0" y2="295.4" stroke="#5a5440" stroke-width="0.5" opacity="0.7"/>
<line x1="445.5" y1="305.5" x2="480.0" y2="305.5" stroke="#5a5440" stroke-width="0.5" opacity="0.7"/>
<line x1="445.5" y1="310.6" x2="480.0" y2="310.6" stroke="#5a5440" stroke-width="0.5" opacity="0.7"/>
<line x1="445.5" y1="329.6" x2="480.0" y2="329.6" stroke="#5a5440" stroke-width="0.5" opacity="0.7"/>
<line x1="445.5" y1="334" x2="480.0" y2="334" stroke="#5a5440" stroke-width="0.5" opacity="0.7"/>
<line x1="445.5" y1="336.5" x2="480.0" y2="336.5" stroke="#5a5440" stroke-width="0.5" opacity="0.7"/>
<line x1="445.5" y1="342" x2="480.0" y2="342" stroke="#5a5440" stroke-width="0.5" opacity="0.7"/>
<line x1="445.5" y1="346" x2="480.0" y2="346" stroke="#5a5440" stroke-width="0.5" opacity="0.7"/>
<line x1="445.5" y1="351.8" x2="480.0" y2="351.8" stroke="#5a5440" stroke-width="0.5" opacity="0.7"/>
<line x1="445.5" y1="353" x2="480.0" y2="353" stroke="#5a5440" stroke-width="0.5" opacity="0.7"/>
<line x1="445.5" y1="357" x2="480.0" y2="357" stroke="#5a5440" stroke-width="0.5" opacity="0.7"/>
<line x1="445.5" y1="359" x2="480.0" y2="359" stroke="#5a5440" stroke-width="0.5" opacity="0.7"/>
<polygon points="482,184.7 507.3,184.7 530.6,166.1 629.7,166.1 629.7,173.3 530.6,173.3 507.3,194.4 482,194.4" fill="#c6c6c6"/>
<polyline points="487.0,101.4 506.0,101.4 530.0,110.5 629.7,110.5" fill="none" stroke="#d2d2d2" stroke-width="0.6" stroke-dasharray="2,1"/>
<polyline points="487.0,120.3 506.0,120.3 530.0,127.2 629.7,127.2" fill="none" stroke="#d2d2d2" stroke-width="0.6" stroke-dasharray="2,1"/>
<polyline points="487.0,137.8 506.0,137.8 530.0,139.2 629.7,139.2" fill="none" stroke="#d2d2d2" stroke-width="0.6" stroke-dasharray="2,1"/>
<polyline points="487.0,157.9 506.0,157.9 530.0,146.5 629.7,146.5" fill="none" stroke="#d2d2d2" stroke-width="0.6" stroke-dasharray="2,1"/>
<polyline points="487.0,239.4 506.0,239.4 530.0,204.6 629.7,204.6" fill="none" stroke="#d2d2d2" stroke-width="0.6" stroke-dasharray="2,1"/>
<polyline points="487.0,253.8 506.0,253.8 530.0,219.3 629.7,219.3" fill="none" stroke="#d2d2d2" stroke-width="0.6" stroke-dasharray="2,1"/>
<polyline points="487.0,268.3 506.0,268.3 530.0,256.3 629.7,256.3" fill="none" stroke="#d2d2d2" stroke-width="0.6" stroke-dasharray="2,1"/>
<polyline points="487.0,321.4 506.0,321.4 530.0,318.7 629.7,318.7" fill="none" stroke="#d2d2d2" stroke-width="0.6" stroke-dasharray="2,1"/>
<polyline points="487.0,339.2 506.0,339.2 530.0,331.4 629.7,331.4" fill="none" stroke="#d2d2d2" stroke-width="0.6" stroke-dasharray="2,1"/>
<polyline points="487.0,364.7 506.0,364.7 530.0,357.8 629.7,357.8" fill="none" stroke="#d2d2d2" stroke-width="0.6" stroke-dasharray="2,1"/>
<polyline points="482.0,199.3 507.5,199.3 530.0,174.4 629.7,174.4" fill="none" stroke="#7fb27f" stroke-width="0.8" />
<polyline points="482.0,223.4 507.5,223.4 530.0,192.2 629.7,192.2" fill="none" stroke="#7fb27f" stroke-width="0.8" />
<polyline points="482.0,347.6 508.0,347.6 530.0,342.9 629.7,342.9" fill="none" stroke="#7fb27f" stroke-width="0.8" />
<polyline points="482.0,283.8 507.5,283.8 530.0,246.4" fill="none" stroke="#5656a4" stroke-width="0.85" />
<polyline points="530.0,246.4 629.7,246.4" fill="none" stroke="#34347e" stroke-width="1.1" />
<polyline points="563.4,89.2 560.8,90.9 552.8,91.5 534.6,93.0 539.1,94.7 542.5,96.6 544.4,98.1 545.6,99.8 541.4,101.6 543.3,102.3 547.5,103.6 550.5,105.0 549.0,106.3 552.4,107.3 553.5,108.4 549.7,110.3 553.5,111.4 560.4,112.6 564.2,114.2 552.8,115.0 535.3,117.2 538.4,119.2 540.6,121.1 544.4,124.1 542.1,126.4 548.2,127.6 553.5,128.3 557.0,130.2 558.1,132.3 545.2,134.2 549.7,135.2 559.2,137.1 549.7,138.2 542.1,140.1 541.7,140.0 544.8,143.0 548.6,145.3 553.1,146.4 548.6,147.6 550.8,149.9 554.6,152.2 563.0,154.4 553.1,155.2 543.2,156.7 537.9,158.2 541.7,159.0 544.0,161.3 547.8,164.3 551.6,167.4 556.9,169.6 563.8,170.4 555.4,172.7 544.8,174.2 535.6,175.7 537.2,178.0 541.0,180.3 544.0,182.6 547.8,185.6 553.9,187.9 556.9,187.9 552.4,189.4 550.8,191.7 548.6,192.4 550.8,194.0 544.8,196.2 542.5,198.0 547.8,200.3 552.4,202.6 559.2,204.4 547.8,206.4 550.8,208.7 557.7,211.7 546.3,214.0 535.6,215.5 537.2,217.8 539.4,220.1 541.7,222.4 547.0,224.6 550.8,226.9 557.7,229.2 551.6,230.3 541.7,233.0 539.4,234.5 544.8,236.0 548.6,236.8 547.8,239.1 542.5,240.6 545.5,242.1 552.4,243.6 557.7,244.8 546.3,247.4 539.4,249.0 540.2,250.0 547.8,251.8 550.8,253.8 551.6,256.8 554.6,258.4 559.2,260.9 551.6,262.9 540.2,265.2 544.8,266.7 547.0,269.0 549.3,271.3 543.2,274.3 548.6,275.8 555.4,278.1 561.6,280.8 552.7,282.1 541.6,283.1 548.3,283.9 552.7,284.7 555.4,286.1 550.1,287.0 547.0,288.3 550.5,289.2 553.2,290.1 549.6,291.4 547.0,292.3 551.8,293.2 556.3,294.0 553.6,295.4 548.3,296.3 543.0,297.6 545.6,298.5 546.5,300.2 548.3,301.6 554.5,303.3 561.6,303.8 558.9,305.0 554.0,306.8 549.6,308.5 546.5,309.4 551.8,310.8 555.4,311.6 550.5,313.0 543.9,314.7 547.4,316.5 551.4,318.7 554.0,320.9 557.1,323.2 555.4,325.4 554.0,326.7 547.4,328.0 544.3,329.4 546.5,331.1 552.7,333.3 558.0,335.6 561.1,337.8 552.7,338.8 545.6,340.1 550.1,341.9 552.7,343.6 556.3,345.9 551.8,347.2 545.6,348.1 549.2,349.4 552.7,351.2 556.3,353.4 551.8,355.2 548.3,357.4 551.8,359.1 558.9,360.9 552.7,362.7 547.4,364.5 550.1,365.8 554.5,367.6 558.0,369.8" fill="none" stroke="#111" stroke-width="1.25" stroke-linejoin="round"/>
<polygon points="482,305.8 508.5,305.8 528.5,283.1 629.7,283.1 629.7,303.6 528.5,303.6 508.5,307.6 482,307.6" fill="rgb(240,100,100)" fill-opacity="0.594"/>
<text x="569" y="117.2" font-size="5" text-anchor="middle" style="fill:#333">5</text>
<text x="562.7" y="133.9" font-size="5" text-anchor="middle" style="fill:#333">7</text>
<text x="567.6" y="157.0" font-size="5" text-anchor="middle" style="fill:#333">9</text>
<text x="569" y="174.0" font-size="5" text-anchor="middle" style="fill:#333">11</text>
<text x="563.8" y="190.10000000000002" font-size="5" text-anchor="middle" style="fill:#333">13</text>
<text x="563.8" y="212.8" font-size="5" text-anchor="middle" style="fill:#333">15</text>
<text x="563" y="231.5" font-size="5" text-anchor="middle" style="fill:#333">17</text>
<text x="564.5" y="245.4" font-size="5" text-anchor="middle" style="fill:#333">19</text>
<text x="563.8" y="263.2" font-size="5" text-anchor="middle" style="fill:#333">21</text>
<text x="555.4" y="275.40000000000003" font-size="5" text-anchor="middle" style="fill:#333">23</text>
<text x="566" y="286.0" font-size="5" text-anchor="middle" style="fill:#333">25</text>
<text x="566.8" y="304.2" font-size="5" text-anchor="middle" style="fill:#333">31</text>
<text x="558.7" y="314.8" font-size="5" text-anchor="middle" style="fill:#333">33</text>
<text x="562.2" y="327.2" font-size="5" text-anchor="middle" style="fill:#333">35</text>
<text x="565.8" y="340.1" font-size="5" text-anchor="middle" style="fill:#333">37</text>
<text x="562.2" y="349.0" font-size="5" text-anchor="middle" style="fill:#333">39</text>
<text x="564.9" y="363.2" font-size="5" text-anchor="middle" style="fill:#333">43</text>
<line x1="534.5" y1="371" x2="566.6" y2="371" stroke="#888" stroke-width="0.8"/>
<line x1="534.5" y1="368" x2="534.5" y2="371" stroke="#777" stroke-width="0.8"/>
<line x1="542.4" y1="368" x2="542.4" y2="371" stroke="#777" stroke-width="0.8"/>
<line x1="550.4" y1="368" x2="550.4" y2="371" stroke="#777" stroke-width="0.8"/>
<line x1="558.3" y1="368" x2="558.3" y2="371" stroke="#777" stroke-width="0.8"/>
<line x1="566.3" y1="368" x2="566.3" y2="371" stroke="#777" stroke-width="0.8"/>
<text x="535" y="378.6" font-size="6" text-anchor="middle" style="fill:#444">5</text>
<text x="550.4" y="378.6" font-size="6" text-anchor="middle" style="fill:#444">4</text>
<text x="566.3" y="378.6" font-size="6" text-anchor="middle" style="fill:#444">3</text>
<polygon points="588,160 599,158 601,162 603,168 602,175 604,190 603,205 604,220 603,235 603,250 590,250 588,238 585,222 586,205 584,190 585,175 586,168" fill="#94c6d6"/>
<polygon points="578,90 598,90 606,107 593.0,108" fill="#88bdd1"/>
<line x1="578.0" y1="90.6" x2="595.0" y2="107.8" stroke="#1b2a5e" stroke-width="1.5"/>
<line x1="583.0" y1="90.6" x2="598.0" y2="107.8" stroke="#1b2a5e" stroke-width="1.1"/>
<line x1="588.0" y1="90.6" x2="601.0" y2="107.8" stroke="#1b2a5e" stroke-width="1.3"/>
<line x1="594.0" y1="90.8" x2="604.0" y2="106.5" stroke="#5f93aa" stroke-width="1.0"/>
<polyline points="591.0,90.5 605.0,106.0 610.0,108.0" fill="none" stroke="#c9373a" stroke-width="1.3"/>
<circle cx="609.5" cy="108.0" r="0.9" fill="#2a1a2a"/>
<path d="M610.0,108.0 Q595.5,109.0 582.0,115.8" fill="none" stroke="#c9373a" stroke-width="1.4"/>
<path d="M608.0,108.5 Q595.5,110.5 581.5,116.5" fill="none" stroke="#1b2a5e" stroke-width="1.1"/>
<polygon points="581,115.5 598,115.5 612,129 600.8,130" fill="#88bdd1"/>
<line x1="581.0" y1="116.1" x2="602.8" y2="129.8" stroke="#1b2a5e" stroke-width="1.5"/>
<line x1="585.2" y1="116.1" x2="605.3" y2="129.8" stroke="#1b2a5e" stroke-width="1.1"/>
<line x1="589.5" y1="116.1" x2="607.9" y2="129.8" stroke="#1b2a5e" stroke-width="1.3"/>
<line x1="594.6" y1="116.3" x2="610.0" y2="128.5" stroke="#5f93aa" stroke-width="1.0"/>
<polyline points="592.0,116.0 611.0,128.0 616.0,130.0" fill="none" stroke="#c9373a" stroke-width="1.3"/>
<circle cx="615.5" cy="130.0" r="0.9" fill="#2a1a2a"/>
<path d="M616.0,130.0 Q600.0,131.0 585.0,136.3" fill="none" stroke="#c9373a" stroke-width="1.4"/>
<path d="M614.0,130.5 Q600.0,132.5 584.5,137.0" fill="none" stroke="#1b2a5e" stroke-width="1.1"/>
<polygon points="584,136 598,136 605,152.5 595.6,153.5" fill="#88bdd1"/>
<line x1="584.0" y1="136.6" x2="597.6" y2="153.3" stroke="#1b2a5e" stroke-width="1.5"/>
<line x1="587.5" y1="136.6" x2="599.7" y2="153.3" stroke="#1b2a5e" stroke-width="1.1"/>
<line x1="591.0" y1="136.6" x2="601.8" y2="153.3" stroke="#1b2a5e" stroke-width="1.3"/>
<line x1="595.2" y1="136.8" x2="603.0" y2="152.0" stroke="#5f93aa" stroke-width="1.0"/>
<polyline points="593.1,136.5 604.0,151.5 609.0,153.5" fill="none" stroke="#c9373a" stroke-width="1.3"/>
<circle cx="608.5" cy="153.5" r="0.9" fill="#2a1a2a"/>
<path d="M609.0,153.5 Q594.5,154.5 581.0,156.8" fill="none" stroke="#c9373a" stroke-width="1.4"/>
<path d="M607.0,154.0 Q594.5,156.0 580.5,157.5" fill="none" stroke="#1b2a5e" stroke-width="1.1"/>
<polygon points="580,156.5 594,156.5 604,168.5 594.6,169.5" fill="#88bdd1"/>
<line x1="580.0" y1="157.1" x2="596.6" y2="169.3" stroke="#1b2a5e" stroke-width="1.5"/>
<line x1="583.5" y1="157.1" x2="598.7" y2="169.3" stroke="#1b2a5e" stroke-width="1.1"/>
<line x1="587.0" y1="157.1" x2="600.8" y2="169.3" stroke="#1b2a5e" stroke-width="1.3"/>
<line x1="591.2" y1="157.3" x2="602.0" y2="168.0" stroke="#5f93aa" stroke-width="1.0"/>
<polyline points="589.1,157.0 603.0,167.5 608.0,169.5" fill="none" stroke="#c9373a" stroke-width="1.3"/>
<circle cx="607.5" cy="169.5" r="0.9" fill="#2a1a2a"/>
<path d="M608.0,169.5 Q593.5,170.5 580.0,174.3" fill="none" stroke="#c9373a" stroke-width="1.4"/>
<path d="M606.0,170.0 Q593.5,172.0 579.5,175.0" fill="none" stroke="#1b2a5e" stroke-width="1.1"/>
<polygon points="579,174 594,174 604,186.5 594.0,187.5" fill="#88bdd1"/>
<line x1="579.0" y1="174.6" x2="596.0" y2="187.3" stroke="#1b2a5e" stroke-width="1.4"/>
<line x1="585.0" y1="174.6" x2="599.6" y2="187.3" stroke="#1b2a5e" stroke-width="0.7"/>
<line x1="591.0" y1="174.8" x2="602.0" y2="186.0" stroke="#5f93aa" stroke-width="1.0"/>
<polyline points="588.8,174.5 603.0,185.5 608.0,187.5" fill="none" stroke="#c9373a" stroke-width="1.3"/>
<circle cx="607.5" cy="187.5" r="0.9" fill="#2a1a2a"/>
<path d="M608.0,187.5 Q595.5,188.5 584.0,192.3" fill="none" stroke="#c9373a" stroke-width="1.4"/>
<path d="M606.0,188.0 Q595.5,190.0 583.5,193.0" fill="none" stroke="#1b2a5e" stroke-width="1.1"/>
<polygon points="583,192 599,192 606,209.7 595.4,210.7" fill="#88bdd1"/>
<line x1="583.0" y1="192.6" x2="597.4" y2="210.5" stroke="#1b2a5e" stroke-width="1.4"/>
<line x1="589.4" y1="192.6" x2="601.2" y2="210.5" stroke="#1b2a5e" stroke-width="0.7"/>
<line x1="595.8" y1="192.8" x2="604.0" y2="209.2" stroke="#5f93aa" stroke-width="1.0"/>
<polyline points="593.4,192.5 605.0,208.7 610.0,210.7" fill="none" stroke="#c9373a" stroke-width="1.3"/>
<circle cx="609.5" cy="210.7" r="0.9" fill="#2a1a2a"/>
<path d="M610.0,210.7 Q594.5,211.7 580.0,214.0" fill="none" stroke="#c9373a" stroke-width="1.4"/>
<path d="M608.0,211.2 Q594.5,213.2 579.5,214.7" fill="none" stroke="#1b2a5e" stroke-width="1.1"/>
<polygon points="579,213.7 594,213.7 610,228.4 600.0,229.4" fill="#88bdd1"/>
<line x1="579.0" y1="214.3" x2="602.0" y2="229.2" stroke="#1b2a5e" stroke-width="1.4"/>
<line x1="585.0" y1="214.3" x2="605.6" y2="229.2" stroke="#1b2a5e" stroke-width="0.7"/>
<line x1="591.0" y1="214.5" x2="608.0" y2="227.9" stroke="#5f93aa" stroke-width="1.0"/>
<polyline points="588.8,214.2 609.0,227.4 614.0,229.4" fill="none" stroke="#c9373a" stroke-width="1.3"/>
<circle cx="613.5" cy="229.4" r="0.9" fill="#2a1a2a"/>
<path d="M614.0,229.4 Q598.0,230.4 583.0,233.3" fill="none" stroke="#c9373a" stroke-width="1.4"/>
<path d="M612.0,229.9 Q598.0,231.9 582.5,234.0" fill="none" stroke="#1b2a5e" stroke-width="1.1"/>
<polygon points="582,233 596,233 600,244.2 590.6,245.2" fill="#88bdd1"/>
<line x1="582.0" y1="233.6" x2="592.6" y2="245.0" stroke="#1b2a5e" stroke-width="1.4"/>
<line x1="587.6" y1="233.6" x2="596.0" y2="245.0" stroke="#1b2a5e" stroke-width="0.7"/>
<line x1="593.2" y1="233.8" x2="598.0" y2="243.7" stroke="#5f93aa" stroke-width="1.0"/>
<polyline points="591.1,233.5 599.0,243.2 604.0,245.2" fill="none" stroke="#c9373a" stroke-width="1.3"/>
<circle cx="603.5" cy="245.2" r="0.9" fill="#2a1a2a"/>
<path d="M604.0,245.2 Q594.0,246.2 585.0,247.0" fill="none" stroke="#c9373a" stroke-width="1.4"/>
<path d="M602.0,245.7 Q594.0,247.7 584.5,247.7" fill="none" stroke="#1b2a5e" stroke-width="1.1"/>
<line x1="580" y1="91.2" x2="606" y2="91.2" stroke="#8a2a28" stroke-width="1.6"/>
<polygon points="590,247 603,247 604,280 606,300 605.5,330 606,350 606.5,370 590,370 589.5,350 589,320 589.5,290 589,270" fill="#93bfcc"/>
<polyline points="595.2,248.0 599.9,249.7 598.3,251.3 591.3,253.4 591.0,255.6 591.5,257.8 596.7,259.4 592.3,262.2 599.6,264.0 598.9,266.9 604.7,269.0 602.9,270.6 592.6,272.5 595.0,274.2 593.1,276.9 599.8,279.3 598.4,281.4 591.4,283.0 600.4,284.8 595.1,286.9 597.1,289.3 602.0,291.2 594.0,293.8 598.1,296.1 601.1,299.0 604.7,300.9 596.6,302.6 592.7,305.2 591.1,307.4 601.6,309.9 603.2,312.3 600.6,314.3 598.9,316.7 602.7,318.8 597.4,321.8 591.4,324.3 599.9,326.8 602.4,329.8 596.1,331.7 590.8,334.2 592.9,336.4 591.4,338.1 592.4,340.7 596.2,342.6 591.7,345.4 598.5,347.6 602.4,350.4 594.5,353.2 595.7,355.3 604.4,358.2 593.1,359.9 593.9,361.7 599.0,364.0 590.6,365.9 595.9,368.0" fill="none" stroke="#6d92a2" stroke-width="0.5"/>
<polyline points="604.3,248.0 598.0,250.5 600.3,253.0 603.5,254.5 603.2,257.2 596.2,259.9 592.0,262.0 591.4,264.5 593.5,266.1 595.4,267.8 590.5,269.4 592.0,271.1 590.9,273.2 599.4,276.0 594.2,277.7 595.8,279.7 602.8,281.4 597.3,284.4 591.7,286.6 595.5,288.3 602.5,290.2 590.8,291.9 598.2,294.8 598.4,296.5 598.2,298.1 603.0,301.1 594.3,303.6 592.9,305.7 598.2,308.3 595.3,311.0 602.3,312.8 602.9,315.8 602.4,318.5 593.8,321.1 595.7,323.4 590.9,324.9 594.3,326.8 604.4,329.4 604.1,331.6 604.3,334.5 593.7,336.6 593.4,338.4 599.5,340.2 602.7,343.1 600.0,345.3 591.7,348.0 603.7,350.5 601.4,353.2 593.1,355.4 595.3,358.1 604.6,360.8 596.3,362.9 601.0,365.8 592.3,367.5" fill="none" stroke="#6d92a2" stroke-width="0.5"/>
<polyline points="603.6,248.0 592.6,250.7 604.7,253.4 595.6,255.9 592.4,258.3 604.6,259.8 598.1,262.3 596.8,265.2 602.5,268.0 594.2,269.8 594.0,271.7 594.3,274.1 592.4,276.2 595.6,279.1 599.0,281.3 596.6,284.1 597.8,287.0 598.1,289.3 596.9,290.8 590.6,292.6 593.0,295.3 601.0,297.5 595.2,299.9 598.6,302.1 592.0,304.8 594.1,307.2 601.7,309.1 598.6,311.3 603.7,314.0 599.4,316.1 597.9,318.4 597.1,320.9 597.4,323.2 600.6,326.1 604.2,329.0 598.6,330.8 602.7,333.8 592.3,335.5 591.6,337.6 591.6,339.5 601.9,342.0 592.7,344.8 600.1,347.4 603.3,349.1 593.7,352.1 596.3,355.0 604.9,357.2 592.8,360.0 598.0,362.1 593.3,364.1 601.0,366.1 598.5,367.7" fill="none" stroke="#6d92a2" stroke-width="0.5"/>
<polyline points="590.8,248.0 599.5,250.0 591.4,252.3 601.9,255.2 592.0,258.2 591.1,260.1 594.4,262.8 596.6,264.5 602.4,267.3 592.7,269.2 598.8,272.1 591.8,274.6 600.5,276.2 591.6,278.4 599.7,281.3 591.7,284.0 591.5,286.8 597.1,289.6 598.5,291.6 594.4,294.5 598.1,296.2 592.1,298.0 591.2,299.8 595.0,301.6 601.5,303.5 597.8,305.4 595.5,307.2 594.1,308.7 601.1,310.3 593.2,312.6 604.1,314.8 602.4,316.5 597.7,318.6 596.2,321.4 600.5,323.6 595.5,326.6 600.7,329.3 596.4,331.8 591.3,333.8 591.5,335.5 594.2,338.1 591.7,339.9 603.1,342.6 594.6,345.1 594.7,347.0 592.8,349.2 594.3,351.4 604.6,354.3 594.0,356.6 595.0,359.6 590.5,361.6 597.4,363.7 593.4,365.9 590.6,368.2" fill="none" stroke="#6d92a2" stroke-width="0.5"/>
<polyline points="591.8,248.0 591.1,250.1 594.9,251.6 599.0,253.5 601.4,255.8 600.9,258.3 596.1,261.1 604.8,263.1 601.0,264.8 591.1,267.3 603.4,270.0 601.1,272.5 592.5,275.2 597.8,277.5 602.2,280.2 599.0,282.9 600.4,285.8 593.8,288.3 592.4,289.9 592.0,291.9 598.6,294.7 599.6,297.1 597.6,299.6 602.1,301.1 597.8,303.8 600.1,306.1 601.2,307.7 591.6,309.5 601.1,311.4 601.2,313.2 597.7,316.2 597.4,318.3 601.6,320.8 599.8,323.2 592.6,324.9 601.3,326.7 598.7,328.7 591.4,330.2 600.2,332.1 600.3,334.6 598.0,336.6 597.3,338.8 603.5,340.5 604.7,342.3 590.8,345.2 602.4,347.4 597.0,350.3 593.5,352.2 593.6,355.1 592.6,357.5 604.3,359.8 602.4,361.5 603.4,363.7 593.9,366.3" fill="none" stroke="#6d92a2" stroke-width="0.5"/>
<polyline points="597.5,248.0 590.6,249.5 597.0,251.8 592.5,253.7 595.1,255.7 590.5,258.5 602.7,261.1 603.9,262.8 603.6,265.4 595.9,267.3 605.0,269.4 595.7,271.8 594.5,273.9 592.0,275.5 594.6,278.3 594.1,281.2 597.9,283.1 595.9,284.8 603.3,287.8 599.6,290.5 604.1,293.4 600.9,295.7 601.1,297.3 601.4,299.4 594.7,301.9 603.9,303.5 597.3,305.2 594.8,307.2 604.7,309.8 600.0,311.7 598.6,313.6 592.9,315.7 593.5,317.5 597.7,320.3 603.6,322.2 597.0,325.2 593.3,326.9 595.5,328.5 594.0,330.1 598.8,332.0 601.4,334.9 596.5,337.0 596.0,339.3 591.4,341.3 604.5,343.2 597.8,344.9 603.0,347.3 594.4,349.1 596.3,351.0 604.3,353.2 603.2,356.0 591.0,357.5 603.5,360.1 599.0,362.3 596.2,363.8 602.5,366.7" fill="none" stroke="#6d92a2" stroke-width="0.5"/>
<polyline points="604.6,248.0 592.1,249.9 598.1,251.6 604.2,254.1 599.9,256.7 597.1,259.4 591.1,261.7 593.9,264.4 599.9,267.2 592.4,269.2 599.7,271.1 592.1,273.6 598.1,275.2 596.1,277.6 599.2,279.4 594.9,280.9 604.4,283.1 603.3,285.6 593.9,287.8 604.4,289.7 595.0,292.2 597.7,293.8 596.6,296.3 600.2,298.2 593.8,301.1 595.4,302.6 600.4,304.7 602.1,306.5 597.8,309.2 604.6,311.0 602.4,312.9 593.7,314.8 594.8,317.4 597.7,320.3 593.7,322.1 600.1,324.3 592.6,327.2 593.6,329.3 592.6,332.2 591.4,333.8 603.5,335.9 601.1,338.7 604.0,341.7 593.2,343.7 601.3,346.6 600.1,348.2 595.9,350.2 593.0,352.2 594.6,353.7 604.4,355.8 604.5,357.4 595.7,359.3 602.4,362.0 591.2,364.1 595.9,366.3" fill="none" stroke="#6d92a2" stroke-width="0.5"/>
<path d="M584.5,247.0 C585.3,247.5 589.9,249.9 591.5,251.0 C593.1,252.1 597.1,255.0 598.5,256.0 C599.9,257.0 603.9,258.8 603.5,259.5 C603.1,260.2 597.6,261.4 595.5,262.0 C593.4,262.6 586.0,264.1 585.5,265.0 C585.0,265.9 589.8,268.8 591.5,270.0 C593.2,271.2 598.0,274.0 600.5,275.0 C603.0,276.0 612.6,277.9 612.5,278.5 C612.4,279.1 602.2,279.6 599.5,280.0 C596.8,280.4 590.7,281.3 589.5,281.5" fill="none" stroke="#1d2d63" stroke-width="1.5"/>
<path d="M583.5,248.2 C584.3,248.7 588.9,251.1 590.5,252.2 C592.1,253.2 596.1,256.2 597.5,257.2 C598.9,258.2 602.9,260.0 602.5,260.7 C602.1,261.4 596.6,262.6 594.5,263.2 C592.4,263.8 585.0,265.3 584.5,266.2 C584.0,267.1 588.8,270.0 590.5,271.2 C592.2,272.4 597.0,275.2 599.5,276.2 C602.0,277.2 611.6,279.1 611.5,279.7 C611.4,280.3 601.2,280.8 598.5,281.2 C595.8,281.6 589.7,282.5 588.5,282.7" fill="none" stroke="#2a4a80" stroke-width="0.9"/>
<path d="M586.0,247.8 C586.8,248.3 591.4,250.8 593.0,251.8 C594.6,252.9 598.6,255.8 600.0,256.8 C601.4,257.8 605.4,259.6 605.0,260.3 C604.6,261.0 599.1,262.2 597.0,262.8 C594.9,263.4 587.5,264.9 587.0,265.8 C586.5,266.7 591.2,269.6 593.0,270.8 C594.8,272.0 599.5,274.8 602.0,275.8 C604.5,276.8 614.1,278.7 614.0,279.3 C613.9,279.9 603.7,280.4 601.0,280.8 C598.3,281.2 592.2,282.1 591.0,282.3" fill="none" stroke="#c9373a" stroke-width="1.2"/>
<polyline points="588.3,281.0 588.3,282.6 593.2,284.2 593.8,285.8 593.0,287.4 593.7,289.0 590.1,290.6 591.9,292.2 593.8,293.8 589.5,295.4 589.5,297.0 590.5,298.6 591.9,300.2 591.0,301.8 592.2,303.4 592.3,305.0 590.1,306.6 590.9,308.2 591.1,309.8 593.7,311.4 588.3,313.0 590.6,314.6 593.2,316.2 590.6,317.8 592.5,319.4 590.0,321.0 590.0,322.6 593.5,324.2 590.8,325.8 590.9,327.4 591.5,329.0 591.5,330.6 591.2,332.2 593.8,333.8 592.2,335.4 592.7,337.0 592.0,338.6 592.0,340.2 592.8,341.8 593.9,343.4 593.6,345.0 593.5,346.6 593.5,348.2 590.7,349.8 590.6,351.4 590.3,353.0 591.2,354.6 592.4,356.2 590.0,357.8 592.7,359.4 591.4,361.0 591.2,362.6 593.3,364.2 591.9,365.8 591.3,367.4 591.9,369.0" fill="none" stroke="#1d2d63" stroke-width="1.3" stroke-linejoin="round"/>
<polyline points="598.8,281.0 596.2,282.6 599.9,284.2 596.1,285.8 599.0,287.4 599.4,289.0 596.1,290.6 599.2,292.2 597.5,293.8 598.3,295.4 596.0,297.0 596.2,298.6 596.7,300.2 599.8,301.8 596.8,303.4 599.0,305.0 599.7,306.6 599.8,308.2 597.4,309.8 597.4,311.4 598.1,313.0 599.1,314.6 596.4,316.2 599.0,317.8 599.2,319.4 599.4,321.0 596.1,322.6 599.8,324.2 596.4,325.8 597.4,327.4 598.4,329.0 599.7,330.6 597.4,332.2 599.7,333.8 598.2,335.4 597.2,337.0 597.3,338.6 596.7,340.2 596.3,341.8 596.6,343.4 598.8,345.0 600.0,346.6 596.6,348.2 596.2,349.8 599.9,351.4 598.1,353.0 597.6,354.6 596.9,356.2 598.4,357.8 599.3,359.4 597.8,361.0 597.7,362.6 596.2,364.2 599.7,365.8 596.1,367.4 598.0,369.0" fill="none" stroke="#2b4f86" stroke-width="0.8" stroke-linejoin="round"/>
<polyline points="603.9,281.0 607.5,282.6 607.5,284.2 608.5,285.8 608.5,287.4 603.8,289.0 601.4,290.6 602.5,292.2 601.5,293.8 606.0,295.4 606.0,297.0 602.6,298.6 604.5,300.2 604.0,301.8 609.5,303.4 615.6,305.0 615.6,306.6 603.6,308.2 602.7,309.8 602.0,311.4 602.4,313.0 601.5,314.6 602.3,316.2 604.5,317.8 604.4,319.4 607.0,321.0 602.7,322.6 602.2,324.2 601.3,325.8 606.0,327.4 606.0,329.0 604.0,330.6 602.3,332.2 603.8,333.8 610.6,335.4 610.6,337.0 603.3,338.6 603.7,340.2 602.3,341.8 604.5,343.4 604.5,345.0 602.7,346.6 603.7,348.2 606.0,349.8 606.0,351.4 604.3,353.0 603.3,354.6 603.0,356.2 601.0,357.8 609.5,359.4 601.9,361.0 609.5,362.6 609.5,364.2 603.9,365.8 603.3,367.4 603.8,369.0" fill="none" stroke="#c9373a" stroke-width="1.2" stroke-linejoin="round"/>
<polyline points="598.5,282.0 607.5,283.2 598.5,284.4" fill="#c9373a" stroke="#1d2d63" stroke-width="0.5"/>
<polyline points="599.5,285.6 608.5,286.8 599.5,288.0" fill="#c9373a" stroke="#1d2d63" stroke-width="0.5"/>
<polyline points="600.5,302.3 609.5,303.5 600.5,304.7" fill="#c9373a" stroke="#1d2d63" stroke-width="0.5"/>
<polyline points="606.6,304.7 615.6,305.9 606.6,307.1" fill="#c9373a" stroke="#1d2d63" stroke-width="0.5"/>
<polyline points="598.0,319.6 607.0,320.8 598.0,322.0" fill="#c9373a" stroke="#1d2d63" stroke-width="0.5"/>
<polyline points="601.6,334.8 610.6,336.0 601.6,337.2" fill="#c9373a" stroke="#1d2d63" stroke-width="0.5"/>
<polyline points="595.5,342.9 604.5,344.1 595.5,345.3" fill="#c9373a" stroke="#1d2d63" stroke-width="0.5"/>
<polyline points="600.5,358.1 609.5,359.3 600.5,360.5" fill="#c9373a" stroke="#1d2d63" stroke-width="0.5"/>
<polyline points="600.5,362.2 609.5,363.4 600.5,364.6" fill="#c9373a" stroke="#1d2d63" stroke-width="0.5"/>
<polyline points="597.0,294.8 606.0,296.0 597.0,297.2" fill="#c9373a" stroke="#1d2d63" stroke-width="0.5"/>
<polyline points="597.0,326.8 606.0,328.0 597.0,329.2" fill="#c9373a" stroke="#1d2d63" stroke-width="0.5"/>
<polyline points="597.0,349.8 606.0,351.0 597.0,352.2" fill="#c9373a" stroke="#1d2d63" stroke-width="0.5"/>
<path d="M580.2,89.6 C579.7,90.0 577.9,90.9 577.9,91.8 C577.9,92.7 579.1,93.0 580.2,94.1 C581.3,95.2 583.4,96.0 583.2,97.2 C583.0,98.4 580.0,99.0 579.4,100.2 C578.8,101.4 578.5,102.0 580.2,103.2 C581.9,104.4 585.7,105.2 587.8,106.3 C589.9,107.4 589.3,107.7 590.8,108.6 C592.3,109.5 593.9,110.0 595.4,110.8 C596.9,111.6 599.9,111.9 598.4,112.4 C596.9,112.9 591.6,112.5 587.8,113.1 C584.0,113.7 581.4,114.5 579.4,115.4 C577.4,116.3 577.7,116.5 577.9,117.7 C578.1,118.9 579.0,120.1 580.2,121.5 C581.4,122.9 582.0,122.5 584.0,124.5 C586.0,126.5 590.5,129.9 590.3,131.6 C590.1,133.3 584.4,132.4 583.2,133.1 C582.0,133.8 585.0,133.6 584.2,135.2 C583.4,136.8 579.9,139.6 579.1,141.2 C578.3,142.8 577.4,141.3 580.2,143.3 C583.0,145.3 589.7,149.2 593.3,151.4 C596.9,153.6 600.8,153.4 598.4,154.4 C596.0,155.4 584.8,155.4 581.2,156.4 C577.6,157.4 579.6,158.2 580.2,159.5 C580.8,160.8 581.6,161.7 584.0,163.0 C586.4,164.3 589.4,164.8 592.3,166.1 C595.2,167.4 601.4,168.0 598.4,169.6 C595.4,171.2 580.1,172.1 577.1,174.2 C574.1,176.3 579.8,177.9 583.2,180.3 C586.6,182.7 593.3,184.3 594.3,186.3 C595.3,188.3 590.5,188.8 588.3,190.4 C586.1,192.0 583.8,192.8 583.2,194.4 C582.6,196.0 584.2,196.4 585.2,198.5 C586.2,200.6 587.1,203.2 588.3,205.1 C589.5,207.0 590.3,206.9 591.3,208.2 C592.3,209.5 596.1,210.6 593.3,211.7 C590.5,212.8 580.1,212.4 577.1,213.7 C574.1,215.0 576.7,216.4 578.1,218.3 C579.5,220.2 581.0,221.6 584.2,223.4 C587.4,225.2 595.5,225.8 594.3,227.4 C593.1,229.0 580.9,230.1 578.1,231.5 C575.3,232.9 579.6,232.8 580.2,234.5 C580.8,236.2 578.0,238.0 581.2,240.1 C584.4,242.2 593.4,244.2 596.4,245.2" fill="none" stroke="#e2aa50" stroke-width="1.6"/>
<polyline points="583.2,91.1 580.9,93.3 583.2,95.6 586.2,98.7 582.4,101.7 583.2,104.7 590.8,107.8 593.8,110.1 598.4,112.3 601.4,113.9 590.8,114.6 582.4,116.9 580.9,119.2 583.2,123.0 587.0,126.0 593.3,133.1 586.2,134.6 587.2,136.7 582.1,142.7 583.2,144.8 596.3,152.9 601.4,155.9 584.2,157.9 583.2,161.0 587.0,164.5 595.3,167.6 601.4,171.1 580.1,175.7 586.2,181.8 597.3,187.8 591.3,191.9 586.2,195.9 588.2,200.0 591.3,206.6 594.3,209.7 596.3,213.2 580.1,215.2 581.1,219.8 587.2,224.9 597.3,228.9 581.1,233.0 583.2,236.0 584.2,241.6 599.4,246.7" fill="none" stroke="#efc888" stroke-width="0.9" stroke-linejoin="round"/>
<line x1="602.3" y1="92" x2="602.3" y2="370" stroke="#444" stroke-width="0.7" stroke-dasharray="5,4"/>
<line x1="574" y1="90" x2="622.7" y2="90" stroke="#777" stroke-width="0.8"/>
<line x1="574.8" y1="90" x2="574.8" y2="92.5" stroke="#777" stroke-width="0.6"/>
<line x1="578.0" y1="90" x2="578.0" y2="92.5" stroke="#777" stroke-width="0.6"/>
<line x1="581.2" y1="90" x2="581.2" y2="92.5" stroke="#777" stroke-width="0.6"/>
<line x1="584.4" y1="90" x2="584.4" y2="92.5" stroke="#777" stroke-width="0.6"/>
<line x1="587.6" y1="90" x2="587.6" y2="92.5" stroke="#777" stroke-width="0.6"/>
<line x1="590.8" y1="90" x2="590.8" y2="92.5" stroke="#777" stroke-width="0.6"/>
<line x1="594.0" y1="90" x2="594.0" y2="92.5" stroke="#777" stroke-width="0.6"/>
<line x1="597.2" y1="90" x2="597.2" y2="92.5" stroke="#777" stroke-width="0.6"/>
<line x1="600.4" y1="90" x2="600.4" y2="92.5" stroke="#777" stroke-width="0.6"/>
<line x1="603.6" y1="90" x2="603.6" y2="92.5" stroke="#777" stroke-width="0.6"/>
<line x1="606.8" y1="90" x2="606.8" y2="92.5" stroke="#777" stroke-width="0.6"/>
<line x1="610.0" y1="90" x2="610.0" y2="92.5" stroke="#777" stroke-width="0.6"/>
<line x1="613.2" y1="90" x2="613.2" y2="92.5" stroke="#777" stroke-width="0.6"/>
<line x1="616.4" y1="90" x2="616.4" y2="92.5" stroke="#777" stroke-width="0.6"/>
<line x1="619.6" y1="90" x2="619.6" y2="92.5" stroke="#777" stroke-width="0.6"/>
<line x1="622.8" y1="90" x2="622.8" y2="92.5" stroke="#777" stroke-width="0.6"/>
<text x="574.9" y="86.4" font-size="6" text-anchor="middle" style="fill:#222">35</text>
<text x="591" y="86.4" font-size="6" text-anchor="middle" style="fill:#222">30</text>
<text x="606.9" y="86.4" font-size="6" text-anchor="middle" style="fill:#222">25</text>
<text x="622.4" y="86.4" font-size="6" text-anchor="middle" style="fill:#222">20</text>
<rect x="629.7" y="245.7" width="16.3" height="125.2" fill="#fff" stroke="#333" stroke-width="0.7"/>
<rect x="629.7" y="89.6" width="16.3" height="156.1" fill="#000"/>
<rect x="629.7" y="289.6" width="16.3" height="15.1" fill="#000"/>
<line x1="629.7" y1="325.7" x2="646" y2="325.7" stroke="#000" stroke-width="1.3"/>
<line x1="646" y1="89.6" x2="646" y2="370.9" stroke="#222" stroke-width="0.8"/>
<line x1="646" y1="89.60" x2="650" y2="89.60" stroke="#444" stroke-width="0.7"/>
<line x1="646" y1="99.65" x2="648.5" y2="99.65" stroke="#444" stroke-width="0.7"/>
<line x1="646" y1="109.70" x2="648.5" y2="109.70" stroke="#444" stroke-width="0.7"/>
<line x1="646" y1="119.75" x2="648.5" y2="119.75" stroke="#444" stroke-width="0.7"/>
<line x1="646" y1="129.80" x2="648.5" y2="129.80" stroke="#444" stroke-width="0.7"/>
<line x1="646" y1="139.85" x2="650" y2="139.85" stroke="#444" stroke-width="0.7"/>
<line x1="646" y1="149.90" x2="648.5" y2="149.90" stroke="#444" stroke-width="0.7"/>
<line x1="646" y1="159.95" x2="648.5" y2="159.95" stroke="#444" stroke-width="0.7"/>
<line x1="646" y1="170.00" x2="648.5" y2="170.00" stroke="#444" stroke-width="0.7"/>
<line x1="646" y1="180.05" x2="648.5" y2="180.05" stroke="#444" stroke-width="0.7"/>
<line x1="646" y1="190.10" x2="650" y2="190.10" stroke="#444" stroke-width="0.7"/>
<line x1="646" y1="200.15" x2="648.5" y2="200.15" stroke="#444" stroke-width="0.7"/>
<line x1="646" y1="210.20" x2="648.5" y2="210.20" stroke="#444" stroke-width="0.7"/>
<line x1="646" y1="220.25" x2="648.5" y2="220.25" stroke="#444" stroke-width="0.7"/>
<line x1="646" y1="230.30" x2="648.5" y2="230.30" stroke="#444" stroke-width="0.7"/>
<line x1="646" y1="240.35" x2="650" y2="240.35" stroke="#444" stroke-width="0.7"/>
<line x1="646" y1="250.40" x2="648.5" y2="250.40" stroke="#444" stroke-width="0.7"/>
<line x1="646" y1="260.45" x2="648.5" y2="260.45" stroke="#444" stroke-width="0.7"/>
<line x1="646" y1="270.50" x2="648.5" y2="270.50" stroke="#444" stroke-width="0.7"/>
<line x1="646" y1="280.55" x2="648.5" y2="280.55" stroke="#444" stroke-width="0.7"/>
<line x1="646" y1="290.60" x2="650" y2="290.60" stroke="#444" stroke-width="0.7"/>
<line x1="646" y1="300.65" x2="648.5" y2="300.65" stroke="#444" stroke-width="0.7"/>
<line x1="646" y1="310.70" x2="648.5" y2="310.70" stroke="#444" stroke-width="0.7"/>
<line x1="646" y1="320.75" x2="648.5" y2="320.75" stroke="#444" stroke-width="0.7"/>
<line x1="646" y1="330.80" x2="648.5" y2="330.80" stroke="#444" stroke-width="0.7"/>
<line x1="646" y1="340.85" x2="650" y2="340.85" stroke="#444" stroke-width="0.7"/>
<line x1="646" y1="350.90" x2="648.5" y2="350.90" stroke="#444" stroke-width="0.7"/>
<line x1="646" y1="360.95" x2="648.5" y2="360.95" stroke="#444" stroke-width="0.7"/>
<line x1="646" y1="371.00" x2="648.5" y2="371.00" stroke="#444" stroke-width="0.7"/>
<text x="652.2" y="91.7" font-size="6" style="fill:#222">0</text>
<text x="652.2" y="141.9" font-size="6" style="fill:#222">250</text>
<text x="652.2" y="192.2" font-size="6" style="fill:#222">500</text>
<text x="652.2" y="242.4" font-size="6" style="fill:#222">750</text>
<text x="652.2" y="292.7" font-size="6" style="fill:#222">1000</text>
<text x="652.2" y="343.0" font-size="6" style="fill:#222">1250</text>
<text transform="translate(640.2,176.2) rotate(-90)" font-size="6" text-anchor="middle" style="fill:#fff">C1n</text>
<text transform="translate(640.2,271.4) rotate(-90)" font-size="6" text-anchor="middle" style="fill:#222">C1r.1r</text>
<text transform="translate(640.2,315.6) rotate(-90)" font-size="6" text-anchor="middle" style="fill:#222">C1r.2r</text>
<text transform="translate(640.2,351.1) rotate(-90)" font-size="6" text-anchor="middle" style="fill:#222">C1r.3r</text>
<text transform="translate(676.6,232.9) rotate(90)" font-size="11" text-anchor="middle">Age (ka)</text>
</svg></body></html>
